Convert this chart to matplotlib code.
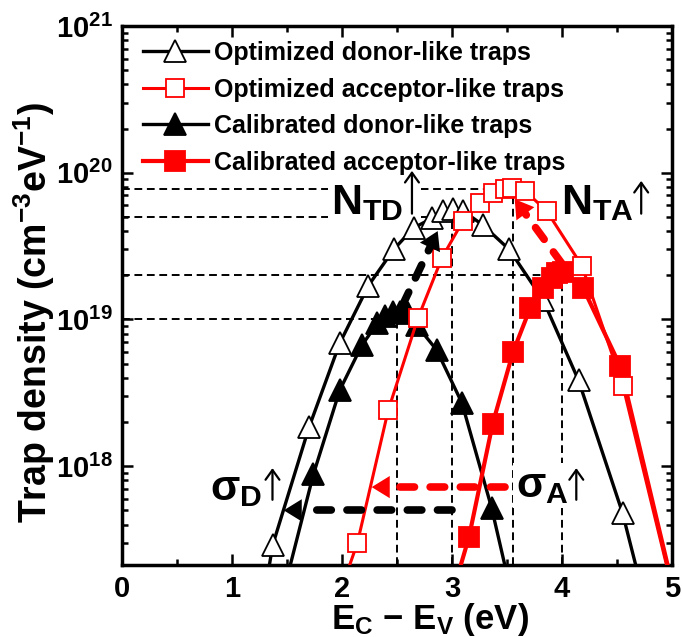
import math
import matplotlib
matplotlib.use('Agg')
import matplotlib.pyplot as plt

plt.rcParams['font.family'] = ['Liberation Sans', 'DejaVu Sans']
plt.rcParams['font.weight'] = 'bold'
plt.rcParams['axes.labelweight'] = 'bold'
plt.rcParams['mathtext.fontset'] = 'custom'
plt.rcParams['mathtext.rm'] = 'Liberation Sans:bold'
plt.rcParams['mathtext.bf'] = 'Liberation Sans:bold'
plt.rcParams['mathtext.it'] = 'Liberation Sans:bold:italic'
plt.rcParams['mathtext.default'] = 'bf'

# ---- data (energy in eV, density in cm^-3 eV^-1) ----
opt_donor_E = [1.37, 1.70, 1.98, 2.24, 2.47, 2.65, 2.82, 2.92, 3.01, 3.10, 3.28, 3.52, 3.83, 4.15, 4.55]
opt_donor_N = [2.9e17, 1.84e18, 6.9e18, 1.7e19, 3.0e19, 4.2e19, 4.9e19, 5.5e19, 5.7e19, 5.5e19,
               4.4e19, 3.0e19, 1.35e19, 3.85e18, 4.8e17]
opt_donor_ends = [1.34, 4.67]

opt_acc_E = [2.14, 2.42, 2.69, 2.91, 3.10, 3.255, 3.37, 3.48, 3.545, 3.66, 3.86, 4.18, 4.555]
opt_acc_N = [3.0e17, 2.4e18, 1.02e19, 2.64e19, 4.7e19, 6.25e19, 7.3e19, 7.8e19, 7.9e19, 7.55e19,
             5.5e19, 2.33e19, 3.5e18]
opt_acc_ends = [2.07, 4.95]

cal_donor_E = [1.74, 1.98, 2.18, 2.32, 2.39, 2.46, 2.53, 2.60, 2.68, 2.86, 3.09, 3.36]
cal_donor_N = [8.8e17, 3.3e18, 6.65e18, 9.4e18, 1.05e19, 1.12e19, 1.13e19, 1.1e19, 9.1e18,
               6.2e18, 2.7e18, 5.2e17]
cal_donor_ends = [1.53, 3.48]

cal_acc_E = [3.155, 3.37, 3.555, 3.71, 3.83, 3.91, 3.955, 4.01, 4.19, 4.53]
cal_acc_N = [3.3e17, 1.95e18, 6.0e18, 1.19e19, 1.65e19, 1.93e19, 2.06e19, 2.09e19, 1.65e19, 4.8e18]
cal_acc_ends = [3.08, 4.96]

# guide lines: (peak energy, peak density)
guide_E = [3.55, 3.0, 4.0, 2.5]
guide_N = [7.8e19, 5.0e19, 2.0e19, 1.0e19]

YMIN, YMAX = 2.12e17, 1e21

fig = plt.figure(figsize=(6.82, 6.37), dpi=100)
ax = fig.add_axes([122 / 682, 1 - 565 / 637, 550 / 682, 539 / 637])
ax.set_yscale('log')

# dashed guides
for e, n in zip(guide_E, guide_N):
    ax.plot([0, e], [n, n], color='black', lw=1.4, ls=(0, (4, 2.4)), zorder=1)
    ax.plot([e, e], [YMIN, n], color='black', lw=1.4, ls=(0, (4, 2.4)), zorder=1)


def curve(E, N, ends, color, marker, filled, lw, ms, label, z):
    xs = [ends[0]] + E + [ends[1]]
    ys = [YMIN] + N + [YMIN]
    ax.plot(xs, ys, color=color, lw=lw, marker=marker, ms=ms,
            markevery=list(range(1, len(xs) - 1)),
            mfc=color if filled else 'white', mec=color, mew=1.3,
            label=label, zorder=z)


curve(opt_donor_E, opt_donor_N, opt_donor_ends, 'black', '^', False, 2.4, 16,
      'Optimized donor-like traps', 3)
curve(opt_acc_E, opt_acc_N, opt_acc_ends, 'red', 's', False, 2.2, 13,
      'Optimized acceptor-like traps', 3.4)
curve(cal_donor_E, cal_donor_N, cal_donor_ends, 'black', '^', True, 2.4, 16,
      'Calibrated donor-like traps', 3.1)
curve(cal_acc_E, cal_acc_N, cal_acc_ends, 'red', 's', True, 3.0, 14,
      'Calibrated acceptor-like traps', 3.2)


# thick dashed arrows
def dash_arrow(start, tip, color):
    x0, y0 = start
    x1, y1 = tip
    ly0, ly1 = math.log10(y0), math.log10(y1)
    xe = x0 + (x1 - x0) * 0.88
    ye = 10 ** (ly0 + (ly1 - ly0) * 0.88)
    ax.plot([x0, xe], [y0, ye], color=color, lw=5.5, ls=(0, (1.9, 2.05)),
            dash_capstyle='round', zorder=6)
    ax.annotate('', xy=tip, xytext=start,
                arrowprops=dict(arrowstyle='-|>,head_length=0.65,head_width=0.4',
                                mutation_scale=20, lw=0, color=color,
                                shrinkA=0, shrinkB=0), zorder=6)


dash_arrow((2.55, 1.25e19), (2.87, 4.0e19), 'black')
dash_arrow((4.0, 2.4e19), (3.57, 6.6e19), 'red')
dash_arrow((3.0, 5.0e17), (1.47, 5.0e17), 'black')
dash_arrow((3.48, 7.2e17), (2.27, 7.2e17), 'red')

# labels
box = dict(facecolor='white', edgecolor='none', pad=2)
ax.text(2.636, 5.26e19, ' ', fontsize=31, ha='center', va='baseline', bbox=box, zorder=1.5)
ax.text(1.90, 5.26e19, r'$\mathbf{N_{TD}}$', fontsize=31, va='baseline', ha='left',
        bbox=box, zorder=2)
ax.text(3.995, 5.26e19, r'$\mathbf{N_{TA}}$', fontsize=31, va='baseline', ha='left', zorder=2)
ax.text(0.80, 5.9e17, r'σ$_\mathbf{D}$', fontsize=31, va='baseline', ha='left', zorder=2)
ax.text(3.58, 6.2e17, r'σ$_\mathbf{A}$', fontsize=31, va='baseline', ha='left',
        bbox=box, zorder=2)

# thin up arrows next to the labels
for x, y0, y1 in [(2.636, 5.26e19, 1.03e20), (4.72, 5.26e19, 8.8e19),
                  (1.368, 5.9e17, 9.7e17), (4.13, 5.9e17, 9.7e17)]:
    ax.annotate('', xy=(x, y1), xytext=(x, y0),
                arrowprops=dict(arrowstyle='->,head_length=0.35,head_width=0.25',
                                mutation_scale=20, lw=1.6, color='black',
                                shrinkA=0, shrinkB=0), zorder=7)

ax.set_xlim(0, 5)
ax.set_ylim(YMIN, YMAX)
ax.set_xticks([0, 1, 2, 3, 4, 5])
ax.set_xticks([0.5, 1.5, 2.5, 3.5, 4.5], minor=True)
ax.tick_params(which='both', direction='in', top=True, right=True, width=1.8,
               labelsize=21, pad=7)
ax.tick_params(which='major', length=8)
ax.tick_params(which='minor', length=4.5)
for s in ax.spines.values():
    s.set_linewidth(2.5)

ax.set_xlabel(r'E$_\mathbf{C}$ − E$_\mathbf{V}$ (eV)', fontsize=25, fontweight='bold', va='top')
ax.xaxis.set_label_coords(0.56, -0.066)
ax.set_ylabel(r'Trap density (cm$^{\mathbf{-3}}$eV$^{\mathbf{-1}}$)', fontsize=27,
              fontweight='bold')
ax.yaxis.set_label_coords(-0.118, 0.468)

ax.legend(loc='upper left', bbox_to_anchor=(0.038, 0.972), frameon=False,
          prop={'size': 18, 'weight': 'bold'}, handlelength=2.6, handletextpad=0.26,
          labelspacing=0.5, borderaxespad=0, borderpad=0)

fig.savefig('out.png', dpi=100)
